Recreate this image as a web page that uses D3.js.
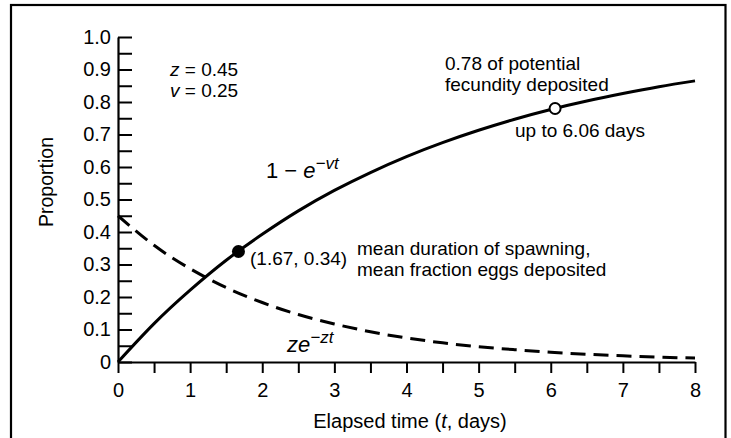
<!DOCTYPE html>
<html>
<head>
<meta charset="utf-8">
<script src="https://cdn.jsdelivr.net/npm/d3@7"></script>
<style>
  body { margin: 0; background: #fff; }
  text { font-family: "Liberation Sans", Arial, Helvetica, sans-serif; fill: #000; }
</style>
</head>
<body>
<script>
// values
var days = [0, 0.5, 1, 1.5, 2, 2.5, 3, 3.5, 4, 4.5, 5, 5.5, 6, 6.5, 7, 7.5, 8];
var deposited = [0, 0.118, 0.221, 0.313, 0.393, 0.465, 0.528, 0.583, 0.632, 0.675, 0.713, 0.747, 0.777, 0.803, 0.826, 0.847, 0.865];
var spawning = [0.45, 0.359, 0.287, 0.229, 0.183, 0.146, 0.117, 0.093, 0.074, 0.059, 0.047, 0.038, 0.030, 0.024, 0.019, 0.015, 0.012];
var meanPoint = [1.67, 0.34];
var fecundPoint = [6.06, 0.78];
var yTicks = [0, 0.05, 0.1, 0.15, 0.2, 0.25, 0.3, 0.35, 0.4, 0.45, 0.5, 0.55, 0.6, 0.65, 0.7, 0.75, 0.8, 0.85, 0.9, 0.95, 1.0];
var yLabels = ["0", "0.1", "0.2", "0.3", "0.4", "0.5", "0.6", "0.7", "0.8", "0.9", "1.0"];
var xTicks = [0, 0.5, 1, 1.5, 2, 2.5, 3, 3.5, 4, 4.5, 5, 5.5, 6, 6.5, 7, 7.5, 8];
var xLabels = ["0", "1", "2", "3", "4", "5", "6", "7", "8"];

var W = 731, H = 438;
var margin = {top: 37, right: 36, bottom: 76, left: 118},
    width = W - margin.left - margin.right,   // 577
    height = H - margin.top - margin.bottom;  // 325

var x = d3.scaleLinear().domain([0, 8]).range([0, width]);
var y = d3.scaleLinear().domain([0, 1]).range([height, 0]);

var root = d3.select("body").append("svg")
    .attr("width", W)
    .attr("height", H);

// outer frame (runs off the bottom of the picture)
root.append("rect")
    .attr("x", 11).attr("y", 5)
    .attr("width", 714.5).attr("height", 460)
    .attr("fill", "none").attr("stroke", "#000").attr("stroke-width", 2.2);

var svg = root.append("g")
    .attr("transform", "translate(" + margin.left + "," + margin.top + ")");

// y axis: ticks point inward, labels only on tenths
var yAxis = d3.axisLeft(y)
    .tickValues(yTicks)
    .tickSizeInner(-14)
    .tickSizeOuter(0)
    .tickPadding(7)
    .tickFormat(function(d) {
      var i = Math.round(d * 20);
      return i % 2 === 0 ? yLabels[i / 2] : "";
    });

var gy = svg.append("g").call(yAxis);
gy.selectAll("text").style("font-size", "20px").attr("font-family", null);

// x axis: ticks every half day pointing down
var xAxis = d3.axisBottom(x)
    .tickValues(xTicks)
    .tickSizeInner(11)
    .tickSizeOuter(0)
    .tickPadding(10)
    .tickFormat(function(d) { return d % 1 === 0 ? xLabels[d] : ""; });

var gx = svg.append("g")
    .attr("transform", "translate(0," + height + ")")
    .call(xAxis);
gx.selectAll("text").style("font-size", "20px").attr("font-family", null);

root.selectAll(".domain").attr("stroke-width", 2.2);
root.selectAll(".tick line").attr("stroke-width", 2);

// curves
var line = d3.line()
    .x(function(d) { return x(d[0]); })
    .y(function(d) { return y(d[1]); })
    .curve(d3.curveNatural);

svg.append("path")
    .datum(days.map(function(t, i) { return [t, spawning[i]]; }))
    .attr("d", line)
    .attr("fill", "none")
    .attr("stroke", "#000")
    .attr("stroke-width", 3)
    .attr("stroke-dasharray", "15,8");

svg.append("path")
    .datum(days.map(function(t, i) { return [t, deposited[i]]; }))
    .attr("d", line)
    .attr("fill", "none")
    .attr("stroke", "#000")
    .attr("stroke-width", 3);

// markers
svg.append("circle")
    .attr("cx", x(meanPoint[0])).attr("cy", y(meanPoint[1]))
    .attr("r", 6.5).attr("fill", "#000");

svg.append("circle")
    .attr("cx", x(fecundPoint[0])).attr("cy", y(fecundPoint[1]))
    .attr("r", 5.5).attr("fill", "#fff")
    .attr("stroke", "#000").attr("stroke-width", 2);

// axis titles
root.append("text")
    .attr("x", 410).attr("y", 428)
    .attr("text-anchor", "middle")
    .style("font-size", "20px")
    .call(function(t) {
      t.append("tspan").text("Elapsed time (");
      t.append("tspan").style("font-style", "italic").text("t");
      t.append("tspan").text(", days)");
    });

root.append("text")
    .attr("transform", "translate(53,182) rotate(-90)")
    .attr("text-anchor", "middle")
    .style("font-size", "19.5px")
    .text("Proportion");

// annotations
function label(px, py, parts, size, supSize) {
  var t = root.append("text").attr("x", px).attr("y", py).style("font-size", (size || 19) + "px");
  parts.forEach(function(p) {
    var s = t.append("tspan").text(p.t);
    if (p.i) s.style("font-style", "italic");
    if (p.sup) s.attr("dy", -9).style("font-size", (supSize || 16) + "px");
  });
  return t;
}

label(170, 76, [{t: "z", i: true}, {t: " = 0.45"}]);
label(170, 97, [{t: "v", i: true}, {t: " = 0.25"}]);
label(445, 70, [{t: "0.78 of potential"}]);
label(445, 91, [{t: "fecundity deposited"}]);
label(515, 137, [{t: "up to 6.06 days"}]);
label(250, 265, [{t: "(1.67, 0.34)"}]);
label(357, 255, [{t: "mean duration of spawning,"}]);
label(357, 276, [{t: "mean fraction eggs deposited"}]);
label(266, 178, [{t: "1 \u2212 "}, {t: "e", i: true}, {t: "\u2212vt", i: true, sup: true}], 22, 17);
label(287, 352, [{t: "ze", i: true}, {t: "\u2212zt", i: true, sup: true}], 22, 17);
</script>
</body>
</html>
